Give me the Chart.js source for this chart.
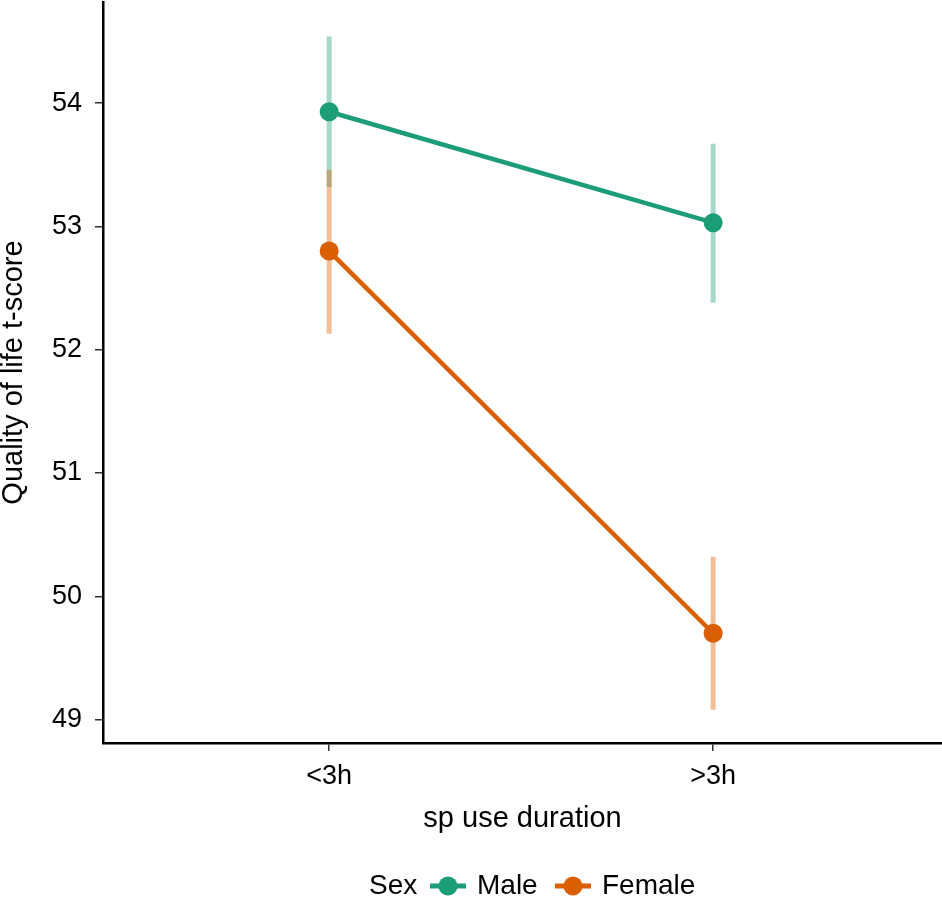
<!DOCTYPE html>
<html>
<head>
<meta charset="utf-8">
<script src="https://cdn.jsdelivr.net/npm/chart.js@4.4.1/dist/chart.umd.min.js"></script>
<style>
  html, body { margin: 0; padding: 0; background: #fff; }
  #wrap { width: 942px; height: 902px; }
</style>
</head>
<body>
<div id="wrap"><canvas id="qol" width="942" height="902"></canvas></div>
<script>
// categories and values
const categories = ['<3h', '>3h'];
const yTicks = [49, 50, 51, 52, 53, 54];

const maleMean = [53.93, 53.03];
const maleLow = [53.32, 52.38];
const maleHigh = [54.54, 53.67];

const femaleMean = [52.80, 49.70];
const femaleLow = [52.13, 49.08];
const femaleHigh = [53.46, 50.32];

const green = '#1B9E77';
const orange = '#D95F02';
const fontFam = '"Liberation Sans", Arial, Helvetica, sans-serif';

function toPoints(arr) {
    return arr.map(function (v, i) { return {x: i + 1, y: v}; });
}

// vertical error bars drawn under the lines
const errorBars = {
    id: 'errorBars',
    beforeDatasetsDraw(chart) {
        const ctx = chart.ctx;
        const xs = chart.scales.x, ys = chart.scales.y;
        const sets = [
            {lo: maleLow, hi: maleHigh, col: 'rgba(27,158,119,0.4)'},
            {lo: femaleLow, hi: femaleHigh, col: 'rgba(217,95,2,0.4)'}
        ];
        ctx.save();
        ctx.lineWidth = 5;
        sets.forEach(function (s) {
            ctx.strokeStyle = s.col;
            for (let i = 0; i < categories.length; i++) {
                const px = xs.getPixelForValue(i + 1);
                ctx.beginPath();
                ctx.moveTo(px, ys.getPixelForValue(s.lo[i]));
                ctx.lineTo(px, ys.getPixelForValue(s.hi[i]));
                ctx.stroke();
            }
        });
        ctx.restore();
    }
};

// ggplot-style legend at the bottom: "Sex  -o- Male  -o- Female"
const bottomLegend = {
    id: 'bottomLegend',
    afterDraw(chart) {
        const ctx = chart.ctx;
        const y = 886;
        ctx.save();
        ctx.font = '28px ' + fontFam;
        ctx.fillStyle = '#000';
        ctx.textBaseline = 'middle';
        ctx.textAlign = 'left';
        ctx.fillText('Sex', 369, y);
        const items = [
            {label: 'Male', col: green, x0: 430},
            {label: 'Female', col: orange, x0: 555}
        ];
        items.forEach(function (it) {
            ctx.strokeStyle = it.col;
            ctx.lineWidth = 5;
            ctx.beginPath();
            ctx.moveTo(it.x0, y);
            ctx.lineTo(it.x0 + 36, y);
            ctx.stroke();
            ctx.fillStyle = it.col;
            ctx.beginPath();
            ctx.arc(it.x0 + 18, y, 9.5, 0, Math.PI * 2);
            ctx.fill();
            ctx.fillStyle = '#000';
            ctx.fillText(it.label, it.x0 + 47, y);
        });
        ctx.restore();
    }
};

new Chart(document.getElementById('qol'), {
    type: 'line',
    data: {
        datasets: [{
            label: 'Male',
            data: toPoints(maleMean),
            borderColor: green,
            backgroundColor: green,
            borderWidth: 4.5,
            pointRadius: 9.5,
            pointHoverRadius: 9.5,
            pointBorderWidth: 0
        }, {
            label: 'Female',
            data: toPoints(femaleMean),
            borderColor: orange,
            backgroundColor: orange,
            borderWidth: 4.5,
            pointRadius: 9.5,
            pointHoverRadius: 9.5,
            pointBorderWidth: 0
        }]
    },
    options: {
        responsive: false,
        animation: false,
        devicePixelRatio: 1,
        layout: { autoPadding: false, padding: { top: 2, right: 0, bottom: 65.6, left: 0 } },
        plugins: {
            legend: { display: false },
            tooltip: { enabled: false }
        },
        scales: {
            x: {
                type: 'linear',
                min: 0.411,
                max: 2.596,
                afterBuildTicks: function (s) { s.ticks = [{value: 1}, {value: 2}]; },
                afterFit: function (s) { s.height = 93.4; s.paddingLeft = 0; s.paddingRight = 0; },
                grid: { drawOnChartArea: false, drawTicks: true, tickLength: 8, color: '#333', lineWidth: 1.5 },
                border: { display: true, color: '#000', width: 2.5 },
                ticks: {
                    padding: 9,
                    color: '#000',
                    font: { size: 27, family: fontFam },
                    callback: function (v) { return categories[v - 1]; }
                },
                title: {
                    display: true,
                    text: 'sp use duration',
                    color: '#000',
                    padding: 0,
                    font: { size: 29, family: fontFam }
                }
            },
            y: {
                min: 48.81,
                max: 54.82,
                afterBuildTicks: function (s) { s.ticks = yTicks.map(function (v) { return {value: v}; }); },
                afterFit: function (s) { s.width = 103; s.paddingTop = 0; s.paddingBottom = 0; },
                grid: { drawOnChartArea: false, drawTicks: true, tickLength: 8, color: '#333', lineWidth: 1.5 },
                border: { display: true, color: '#000', width: 2.5 },
                ticks: {
                    padding: 13,
                    color: '#000',
                    font: { size: 27, family: fontFam }
                },
                title: {
                    display: true,
                    text: 'Quality of life t-score',
                    color: '#000',
                    padding: 2,
                    font: { size: 29, family: fontFam, lineHeight: 0.8 }
                }
            }
        }
    },
    plugins: [errorBars, bottomLegend]
});
</script>
</body>
</html>
